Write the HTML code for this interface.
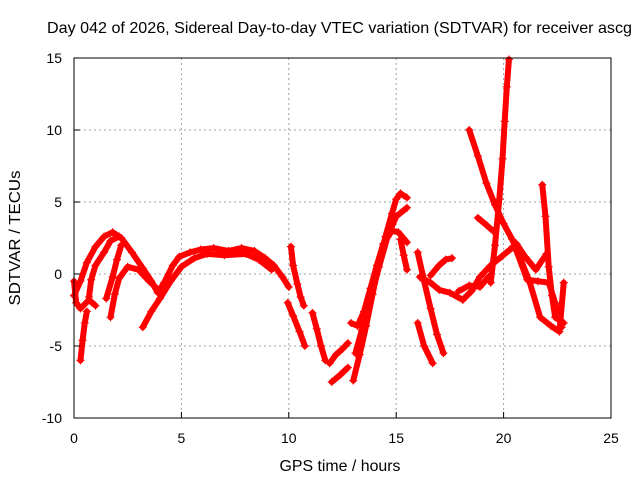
<!DOCTYPE html>
<html><head><meta charset="utf-8"><style>
body{margin:0;background:#fff}
svg{display:block;font-family:"Liberation Sans",sans-serif}
</style></head><body>
<svg id="chart" width="640" height="480" viewBox="0 0 640 480" xmlns="http://www.w3.org/2000/svg">
<rect width="640" height="480" fill="#fff"/>
<text x="47" y="33" font-size="16" textLength="585" lengthAdjust="spacingAndGlyphs" fill="#000">Day 042 of 2026, Sidereal Day-to-day VTEC variation (SDTVAR) for receiver ascg</text>
<g id="grid"></g>
<g id="series"></g>
<rect x="74" y="58" width="537" height="360" fill="none" stroke="#000" stroke-width="1"/>
<g id="ticks"></g>
<text x="340" y="471" font-size="16" textLength="121" lengthAdjust="spacingAndGlyphs" text-anchor="middle">GPS time / hours</text>
<text transform="translate(20,238) rotate(-90)" font-size="16" textLength="135" lengthAdjust="spacingAndGlyphs" text-anchor="middle">SDTVAR / TECUs</text>
</svg>
<script>
const xTicks=[0,5,10,15,20,25];
const yTicks=[-10,-5,0,5,10,15];
const track1=[[0,-1.5],[0.3,-0.5],[0.6,0.8],[1.0,1.9],[1.4,2.6],[1.8,2.9],[2.2,2.5],[2.7,1.5],[3.2,0.4],[3.6,-0.5],[3.9,-1.3],[4.2,-0.6],[4.6,0.6],[4.9,1.2],[5.4,1.5],[5.9,1.7],[6.5,1.8],[7.2,1.6],[7.8,1.8],[8.4,1.6],[8.9,1.1],[9.3,0.6],[9.7,-0.2],[10.0,-0.9]];
const track2=[[3.2,-3.7],[3.6,-2.6],[4.0,-1.7],[4.5,-0.5],[5.0,0.5],[5.6,1.1],[6.2,1.4],[7.0,1.3],[8.0,1.4],[8.6,1.0],[9.2,0.3]];
const track3=[[1.7,-3.0],[1.9,-1.4],[2.1,-0.3],[2.5,0.5],[3.0,0.3],[3.5,-0.5],[4.0,-1.2]];
const track4=[[0.7,-1.6],[0.8,-0.4],[1.0,0.6],[1.4,1.5],[1.7,2.3],[2.1,2.6]];
const track5=[[0.0,-0.5],[0.1,-2.0],[0.3,-2.4],[0.7,-1.8],[1.0,-2.2]];
const track6=[[0.3,-6.0],[0.4,-4.6],[0.5,-3.4],[0.6,-2.6]];
const track7=[[1.5,-1.7],[1.8,-0.2],[2.0,1.0],[2.2,2.0]];
const track8=[[9.95,-2.0],[10.2,-2.9],[10.5,-4.0],[10.75,-5.0]];
const track9=[[10.1,1.9],[10.2,0.6],[10.4,-0.7],[10.55,-1.6],[10.7,-2.2]];
const track10=[[11.1,-2.7],[11.3,-3.8],[11.5,-5.0],[11.7,-6.0]];
const track11=[[11.9,-6.2],[12.2,-5.6],[12.5,-5.2],[12.75,-4.8]];
const track12=[[12.0,-7.5],[12.4,-7.0],[12.75,-6.5]];
const track13=[[13.0,-7.4],[13.3,-5.6],[13.6,-3.6],[13.9,-1.4],[14.2,0.8],[14.5,2.6],[14.8,4.2],[15.0,5.2],[15.2,5.6],[15.5,5.3]];
const track14=[[12.9,-3.4],[13.2,-3.6],[13.5,-2.6],[13.8,-1.0],[14.1,0.6],[14.4,2.1],[14.8,3.0],[15.1,2.9],[15.5,2.2]];
const track15=[[13.1,-5.5],[13.4,-3.9],[13.8,-1.8],[14.2,0.5],[14.6,2.6],[15.0,4.0],[15.5,4.6]];
const track16=[[15.2,2.4],[15.35,1.3],[15.5,0.3]];
const track17=[[16.0,1.5],[16.3,-0.5],[16.6,-2.4],[16.9,-4.2],[17.2,-5.5]];
const track18=[[16.0,-3.4],[16.3,-5.0],[16.7,-6.2]];
const track19=[[16.1,-0.2],[16.6,-0.6],[17.0,-1.1],[17.5,-1.3],[18.1,-1.8],[18.5,-1.2],[18.9,-0.2],[19.4,0.6],[19.9,1.2],[20.3,1.7],[20.6,2.1],[21.0,1.2],[21.5,0.3],[22.0,1.4]];
const track20=[[16.6,-0.1],[17.0,0.6],[17.3,1.0],[17.6,1.1]];
const track21=[[19.4,-0.6],[19.6,2.0],[19.8,5.2],[19.95,8.0],[20.05,10.6],[20.15,13.0],[20.25,14.9]];
const track22=[[18.4,10.0],[18.8,8.2],[19.2,6.3],[19.6,4.8],[20.0,3.5],[20.4,2.4],[20.8,1.0],[21.2,-0.5],[21.7,-3.0],[22.2,-3.6],[22.6,-4.0],[22.8,-0.6]];
const track23=[[21.8,6.2],[21.95,4.0],[22.1,0.5],[22.25,-1.5],[22.4,-3.0],[22.8,-3.4]];
const track24=[[20.6,1.6],[21.1,-0.4],[21.6,-0.5],[22.1,-0.6],[22.4,-2.0],[22.7,-3.7]];
const track25=[[18.8,3.9],[19.2,3.4],[19.5,3.0]];
const track26=[[17.9,-1.2],[18.4,-0.8],[18.9,-0.9],[19.3,-0.2]];
const tracks=[track1,track2,track3,track4,track5,track6,track7,track8,track9,track10,track11,track12,track13,track14,track15,track16,track17,track18,track19,track20,track21,track22,track23,track24,track25,track26];

const NS="http://www.w3.org/2000/svg";
const X0=74,X1=611,Y0=418,Y1=58;
function xs(t){return X0+(t-0)/(25-0)*(X1-X0);}
function ys(v){return Y0-(v+10)/(15+10)*(Y0-Y1);}
function mk(tag,attrs){const e=document.createElementNS(NS,tag);for(const k in attrs)e.setAttribute(k,attrs[k]);return e;}
const grid=document.getElementById('grid'),ticks=document.getElementById('ticks'),series=document.getElementById('series');
xTicks.forEach(t=>{
  const x=xs(t);
  if(t>0&&t<25){const l=mk('line',{x1:x,x2:x,y1:Y1,y2:Y0,stroke:'#a0a0a0','stroke-dasharray':'2,3'});
  
  
  grid.appendChild(l);}
  const tk=mk('line',{x1:x,x2:x,y1:Y0,y2:Y0-6,stroke:'#000'});
  
  
  ticks.appendChild(tk);
  const tx=mk('text',{x:x,y:443,'font-size':'14','text-anchor':'middle'});tx.textContent=t;
  
  
  ticks.appendChild(tx);
});
yTicks.forEach(v=>{
  const y=ys(v);
  if(v>-10&&v<15){const l=mk('line',{x1:X0,x2:X1,y1:y,y2:y,stroke:'#a0a0a0','stroke-dasharray':'2,3'});
  
  
  grid.appendChild(l);}
  const tk=mk('line',{x1:X0,x2:X0+6,y1:y,y2:y,stroke:'#000'});
  
  
  ticks.appendChild(tk);
  const tx=mk('text',{x:62,y:y+5,'font-size':'14','text-anchor':'end'});tx.textContent=v;
  
  
  ticks.appendChild(tx);
});
tracks.forEach((tr,i)=>{
  const g=mk('g',{});
  
  
  const pl=mk('polyline',{points:tr.map(p=>xs(p[0])+','+ys(p[1])).join(' '),fill:'none',stroke:'#ff0000','stroke-width':'6','stroke-linejoin':'round','stroke-linecap':'round'});
  
  
  g.appendChild(pl);
  tr.forEach(p=>{
    const x=xs(p[0]),y=ys(p[1]);
    const m=mk('path',{d:`M${x-4},${y}H${x+4}M${x},${y-4}V${y+4}`,stroke:'#ff0000','stroke-width':'1.2'});
    
    
    g.appendChild(m);
  });
  series.appendChild(g);
});
</script>
</body></html>
